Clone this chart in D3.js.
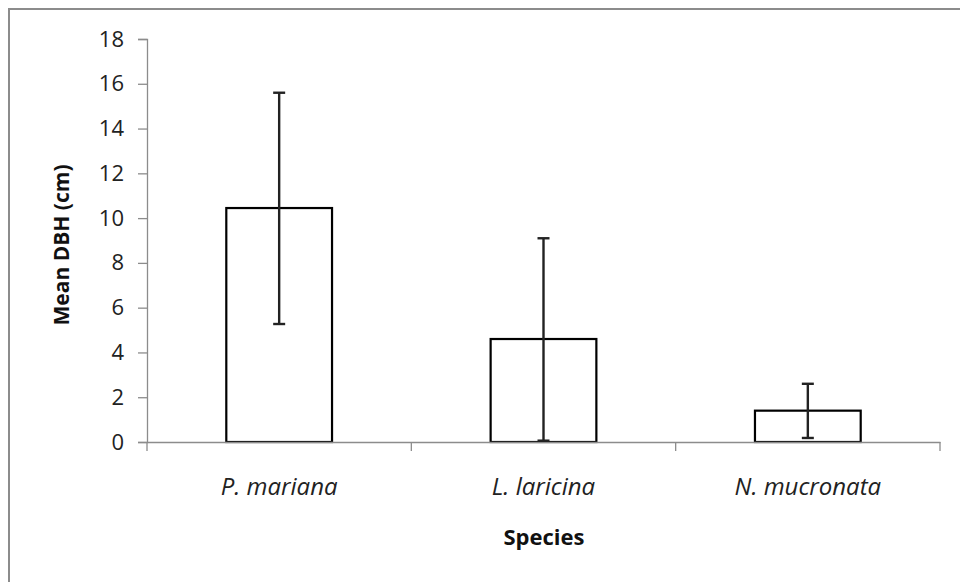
<!DOCTYPE html>
<html>
<head>
<meta charset="utf-8">
<script src="https://cdn.jsdelivr.net/npm/d3@7/dist/d3.min.js"></script>
<style>
  html, body { margin: 0; padding: 0; background: #fff; }
  svg { display: block; }
</style>
</head>
<body>
<svg id="chart" width="960" height="582"></svg>
<script>
const species = ["P. mariana", "L. laricina", "N. mucronata"];
const meanDBH = [10.45, 4.6, 1.4];
const errUpper = [15.6, 9.1, 2.6];
const errLower = [5.27, 0.06, 0.18];
const yTicks = [0, 2, 4, 6, 8, 10, 12, 14, 16, 18];
const yTitle = "Mean DBH (cm)";
const xTitle = "Species";

(function () {
const svg = d3.select("#chart");
const W = 960, H = 582;

// chart frame (only top and left visible in the reference)
svg.append("rect")
  .attr("x", 9).attr("y", 9)
  .attr("width", W + 20).attr("height", H + 20)
  .attr("fill", "#fff")
  .attr("stroke", "#8c8c8c").attr("stroke-width", 2);

const pLeft = 147, pRight = 940, pTop = 39, pBottom = 442;

const x = d3.scaleBand().domain(species).range([pLeft, pRight]).paddingInner(0.6).paddingOuter(0.3);
const xCat = d3.scaleBand().domain(species).range([pLeft, pRight]);
const y = d3.scaleLinear().domain([0, 18]).range([pBottom, pTop]);

const axisColor = "#8c8c8c";
const font = "'Open Sans', 'DejaVu Sans', sans-serif";

// y axis
const yAxis = svg.append("g")
  .attr("transform", `translate(${pLeft},0)`)
  .call(d3.axisLeft(y).tickValues(yTicks).tickSize(9).tickPadding(14).tickFormat(d3.format("d")));
yAxis.select(".domain").attr("stroke", axisColor).attr("stroke-width", 1.3);
yAxis.selectAll(".tick line").attr("stroke", axisColor).attr("stroke-width", 1.3);
yAxis.selectAll(".tick text")
  .attr("fill", "#222").style("font-family", font).style("font-size", "22px");

// bars
svg.append("g").selectAll("rect")
  .data(species)
  .join("rect")
  .attr("x", (d) => x(d))
  .attr("y", (d, i) => y(meanDBH[i]))
  .attr("width", x.bandwidth())
  .attr("height", (d, i) => y(0) - y(meanDBH[i]))
  .attr("fill", "#fff")
  .attr("stroke", "#000")
  .attr("stroke-width", 2.2);

// x axis
const xAxis = svg.append("g")
  .attr("transform", `translate(0,${pBottom})`)
  .call(d3.axisBottom(xCat).tickSize(0).tickFormat(""));
xAxis.select(".domain").attr("stroke", axisColor).attr("stroke-width", 1.5);
xAxis.selectAll(".tick").remove();
// category boundary ticks
const boundaries = species.map((d) => xCat(d)).concat([xCat(species[species.length - 1]) + xCat.bandwidth()]);
svg.append("g").selectAll("line")
  .data(boundaries)
  .join("line")
  .attr("x1", (d) => d).attr("x2", (d) => d)
  .attr("y1", pBottom).attr("y2", pBottom + 9)
  .attr("stroke", axisColor).attr("stroke-width", 1.3);

// category labels
svg.append("g").selectAll("text")
  .data(species)
  .join("text")
  .attr("x", (d) => xCat(d) + xCat.bandwidth() / 2)
  .attr("y", 495)
  .attr("text-anchor", "middle")
  .style("font-family", font)
  .style("font-style", "italic")
  .style("font-size", "24px")
  .attr("fill", "#222")
  .text((d) => d);

// error bars
const eb = svg.append("g");
const cx = (d) => x(d) + x.bandwidth() / 2;
const capHalf = 6;
eb.selectAll("line.stem")
  .data(species).join("line").attr("class", "stem")
  .attr("x1", cx).attr("x2", cx)
  .attr("y1", (d, i) => y(errUpper[i])).attr("y2", (d, i) => y(errLower[i]))
  .attr("stroke", "#222").attr("stroke-width", 2.4);
eb.selectAll("line.capU")
  .data(species).join("line").attr("class", "capU")
  .attr("x1", (d) => cx(d) - capHalf).attr("x2", (d) => cx(d) + capHalf)
  .attr("y1", (d, i) => y(errUpper[i])).attr("y2", (d, i) => y(errUpper[i]))
  .attr("stroke", "#222").attr("stroke-width", 2.4);
eb.selectAll("line.capL")
  .data(species).join("line").attr("class", "capL")
  .attr("x1", (d) => cx(d) - capHalf).attr("x2", (d) => cx(d) + capHalf)
  .attr("y1", (d, i) => y(errLower[i])).attr("y2", (d, i) => y(errLower[i]))
  .attr("stroke", "#222").attr("stroke-width", 2.4);

// axis titles
svg.append("text")
  .attr("transform", `translate(69,245) rotate(-90)`)
  .attr("text-anchor", "middle")
  .style("font-family", font).style("font-weight", "bold").style("font-size", "21px")
  .attr("fill", "#111")
  .text(yTitle);

svg.append("text")
  .attr("x", 544).attr("y", 545)
  .attr("text-anchor", "middle")
  .style("font-family", font).style("font-weight", "bold").style("font-size", "22px")
  .attr("fill", "#111")
  .text(xTitle);
})();
</script>
</body>
</html>
